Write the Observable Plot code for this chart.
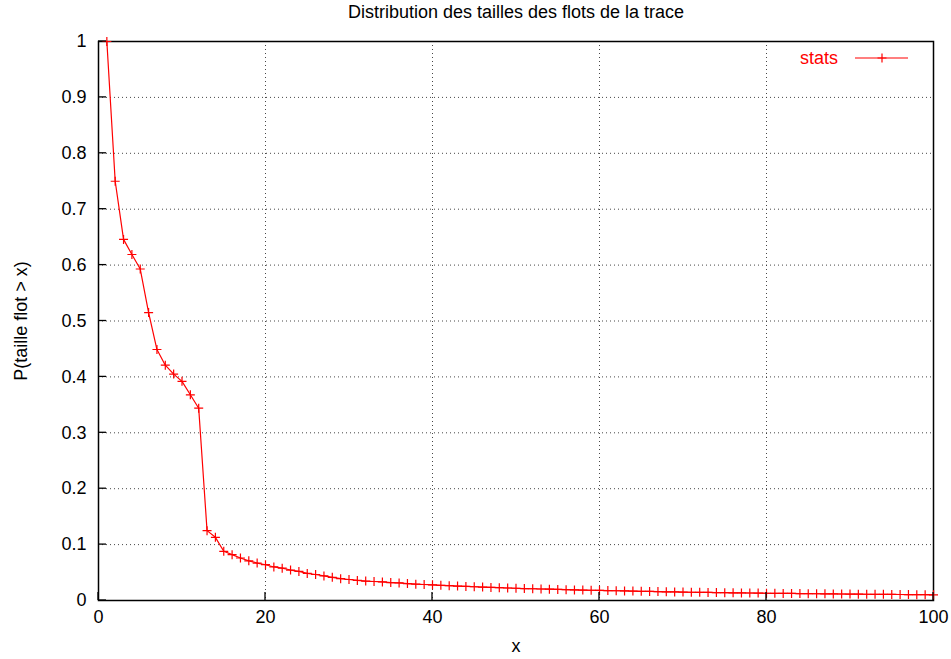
<!DOCTYPE html>
<html>
<head>
<meta charset="utf-8">
<script src="https://cdn.jsdelivr.net/npm/d3@7"></script>
<script src="https://cdn.jsdelivr.net/npm/@observablehq/plot@0.6"></script>
<style>
  html, body { margin: 0; padding: 0; background: #fff; }
  #chart svg { display: block; }
</style>
</head>
<body>
<div id="chart"></div>
<script>
const title = "Distribution des tailles des flots de la trace";
const xLabel = "x";
const yLabel = "P(taille flot > x)";
const seriesName = "stats";

const xs = d3.range(1, 101);
const ys = [
  1.0, 0.75, 0.646, 0.619, 0.593, 0.515, 0.449, 0.421, 0.405, 0.392,
  0.368, 0.344, 0.125, 0.113, 0.088, 0.082, 0.076, 0.071, 0.067, 0.064,
  0.060, 0.0578, 0.0545, 0.052, 0.0485, 0.0465, 0.044, 0.0415, 0.039, 0.0376,
  0.036, 0.0348, 0.034, 0.0333, 0.032, 0.0314, 0.0302, 0.0292, 0.0286, 0.028,
  0.0272, 0.0265, 0.0258, 0.0252, 0.0246, 0.0240, 0.0234, 0.0229, 0.0224, 0.0219,
  0.0214, 0.0210, 0.0206, 0.0202, 0.0198, 0.0194, 0.0190, 0.0186, 0.0183, 0.0180,
  0.0177, 0.0174, 0.0171, 0.0168, 0.0165, 0.0162, 0.0159, 0.0156, 0.0153, 0.0150,
  0.0148, 0.0146, 0.0144, 0.0142, 0.0140, 0.0138, 0.0136, 0.0134, 0.0132, 0.0130,
  0.0128, 0.0127, 0.0126, 0.0124, 0.0122, 0.0121, 0.0119, 0.0118, 0.0116, 0.0115,
  0.0114, 0.0112, 0.0111, 0.0110, 0.0109, 0.0107, 0.0106, 0.0105, 0.0104, 0.0102
];
const xTicks = [0, 20, 40, 60, 80, 100];
const yTicks = [0, 0.1, 0.2, 0.3, 0.4, 0.5, 0.6, 0.7, 0.8, 0.9, 1];
const yTickLabels = ["0", "0.1", "0.2", "0.3", "0.4", "0.5", "0.6", "0.7", "0.8", "0.9", "1"];
const xGrid = [20, 40, 60, 80];
const yGrid = [0.1, 0.2, 0.3, 0.4, 0.5, 0.6, 0.7, 0.8, 0.9];

const data = xs.map((x, i) => ({x, y: ys[i]}));

const plusSymbol = {
  draw(ctx, size) {
    const r = Math.sqrt(size / Math.PI);
    ctx.moveTo(-r, 0); ctx.lineTo(r, 0);
    ctx.moveTo(0, -r); ctx.lineTo(0, r);
  }
};

const FONT = "'Liberation Sans', Arial, Helvetica, sans-serif";
const FS = 18;

const chart = Plot.plot({
  width: 951,
  height: 659,
  marginLeft: 98,
  marginRight: 18,
  marginTop: 41,
  marginBottom: 59,
  style: {fontFamily: FONT, fontSize: FS + "px", color: "#000", background: "#fff"},
  x: {domain: [0, 100]},
  y: {domain: [0, 1]},
  marks: [
    Plot.gridX(xGrid, {stroke: "#333", strokeOpacity: 0.9, strokeDasharray: "1,3"}),
    Plot.gridY(yGrid, {stroke: "#333", strokeOpacity: 0.9, strokeDasharray: "1,3"}),
    Plot.axisX(xTicks, {tickSize: 0, tickPadding: 10, label: null, fontSize: FS}),
    Plot.axisY(yTicks, {tickSize: 0, tickPadding: 12, label: null, fontSize: FS,
      tickFormat: (d) => yTickLabels[yTicks.indexOf(d)]}),
    Plot.frame({stroke: "#000", strokeWidth: 1.5}),
    Plot.line(data, {x: "x", y: "y", stroke: "#ff0000", strokeWidth: 1.2}),
    Plot.dot(data, {x: "x", y: "y", symbol: plusSymbol, r: 4.5, stroke: "#ff0000", fill: "none", strokeWidth: 1.2}),
    Plot.text([title], {frameAnchor: "top", lineAnchor: "middle", textAnchor: "middle", dy: -29, fontSize: FS, fill: "#000"}),
    Plot.text([xLabel], {frameAnchor: "bottom", lineAnchor: "middle", textAnchor: "middle", dy: 46, fontSize: FS, fill: "#000"}),
    Plot.text([yLabel], {frameAnchor: "left", lineAnchor: "middle", textAnchor: "middle", dx: -77, rotate: -90, fontSize: FS, fill: "#000"})
  ]
});

const svg = d3.select(chart);
const sx = chart.scale("x"), sy = chart.scale("y");
const x0 = sx.apply(0), y0 = sy.apply(0);

// inward ticks (gnuplot style), positioned by Plot's scales
const ticks = svg.append("g").attr("stroke", "#000").attr("stroke-width", 1.3);
xTicks.forEach(v => {
  const px = sx.apply(v);
  ticks.append("line").attr("x1", px).attr("x2", px).attr("y1", y0).attr("y2", y0 - 8);
});
yTicks.forEach(v => {
  const py = sy.apply(v);
  ticks.append("line").attr("x1", x0).attr("x2", x0 + 8).attr("y1", py).attr("y2", py);
});

// legend (gnuplot-style key, top-right inside plot)
const key = svg.append("g").attr("font-family", FONT).attr("font-size", FS);
key.append("text").attr("x", 838).attr("y", 58).attr("dy", "0.35em")
  .attr("text-anchor", "end").attr("fill", "#ff0000").text(seriesName);
key.append("line").attr("x1", 855).attr("x2", 908).attr("y1", 58).attr("y2", 58)
  .attr("stroke", "#ff0000").attr("stroke-width", 1.2);
key.append("path").attr("d", "M877.5,58H886.5M882,53.5V62.5")
  .attr("stroke", "#ff0000").attr("stroke-width", 1.2).attr("fill", "none");

document.getElementById("chart").appendChild(chart);
</script>
</body>
</html>
